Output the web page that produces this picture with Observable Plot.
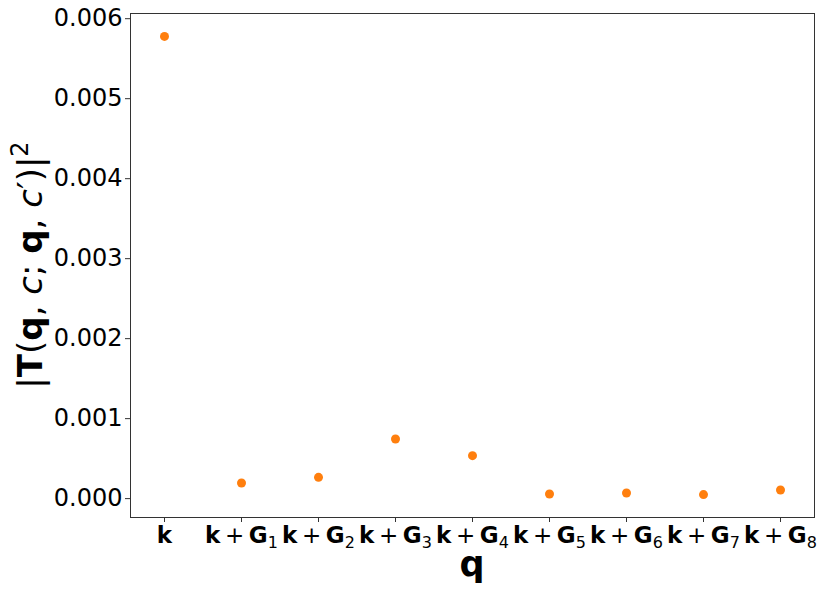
<!DOCTYPE html>
<html>
<head>
<meta charset="utf-8">
<script src="https://cdn.jsdelivr.net/npm/d3@7"></script>
<script src="https://cdn.jsdelivr.net/npm/@observablehq/plot@0.6"></script>
<style>
  html, body { margin: 0; padding: 0; background: white; }
  #chart { width: 830px; height: 593px; }
</style>
</head>
<body>
<div id="chart"></div>
<script>
// Categories (x) and their subscript indices
const categories = ["k", "k+G1", "k+G2", "k+G3", "k+G4", "k+G5", "k+G6", "k+G7", "k+G8"];
const subscripts = ["", "1", "2", "3", "4", "5", "6", "7", "8"];
// |T(q, c; q, c')|^2 values
const values = [0.005779, 0.000195, 0.000266, 0.000745, 0.000537, 0.000058, 0.000070, 0.000050, 0.000108];
// Y tick values
const yTicks = [0, 0.001, 0.002, 0.003, 0.004, 0.005, 0.006];

const data = categories.map((q, i) => ({ q, v: values[i] }));

const chart = Plot.plot({
  width: 830,
  height: 593,
  marginLeft: 130,
  marginRight: 16,
  marginTop: 13,
  marginBottom: 76,
  style: { fontFamily: "DejaVu Sans", fontSize: "24px", color: "black", background: "white", overflow: "visible" },
  x: { type: "point", domain: categories, padding: 0.4 },
  y: { domain: [-0.000236, 0.006065] },
  marks: [
    Plot.frame({ stroke: "#333", strokeWidth: 1 }),
    Plot.axisY({ ticks: yTicks, tickFormat: d3.format(".3f"), tickSize: 5, tickPadding: 3, label: null, stroke: "#333", fill: "black", fontSize: 24 }),
    Plot.axisX({ tickSize: 5, tickPadding: 4, label: null, stroke: "#333", fill: "black", fontSize: 23, tickFormat: d => d }),
    Plot.dot(data, { x: "q", y: "v", r: 4.5, fill: "#ff7f0e", stroke: "none" })
  ]
});

document.getElementById("chart").appendChild(chart);

// Rich (math-like) x tick labels
const svg = d3.select(chart);
svg.selectAll('g[aria-label="x-axis tick label"] text').each(function() {
  const t = d3.select(this);
  const idx = categories.indexOf(t.text());
  t.text(null);
  t.append("tspan").attr("font-weight", "bold").text("k");
  if (subscripts[idx]) {
    t.append("tspan").text("\u2009+\u2009");
    t.append("tspan").attr("font-weight", "bold").text("G");
    t.append("tspan").attr("font-size", "16px").attr("dy", "5px").text(subscripts[idx]);
  }
});

// Y axis title: |T(q, c; q, c')|^2
const yl = svg.append("text")
  .attr("transform", "translate(42,265) rotate(-90)")
  .attr("text-anchor", "middle")
  .attr("font-family", "DejaVu Sans")
  .attr("font-size", "34px")
  .attr("fill", "black");
yl.append("tspan").text("|");
yl.append("tspan").attr("font-weight", "bold").text("T");
yl.append("tspan").text("(");
yl.append("tspan").attr("font-weight", "bold").text("q");
yl.append("tspan").text(", ");
yl.append("tspan").attr("font-style", "italic").text("c");
yl.append("tspan").text("; ");
yl.append("tspan").attr("font-weight", "bold").text("q");
yl.append("tspan").text(", ");
yl.append("tspan").attr("font-style", "italic").text("c");
yl.append("tspan").text("\u2032)|");
yl.append("tspan").attr("font-size", "24px").attr("dy", "-14px").text("2");

// X axis title: q
svg.append("text")
  .attr("x", 472)
  .attr("y", 576)
  .attr("text-anchor", "middle")
  .attr("font-family", "DejaVu Sans")
  .attr("font-weight", "bold")
  .attr("font-size", "35px")
  .attr("fill", "black")
  .text("q");
</script>
</body>
</html>
